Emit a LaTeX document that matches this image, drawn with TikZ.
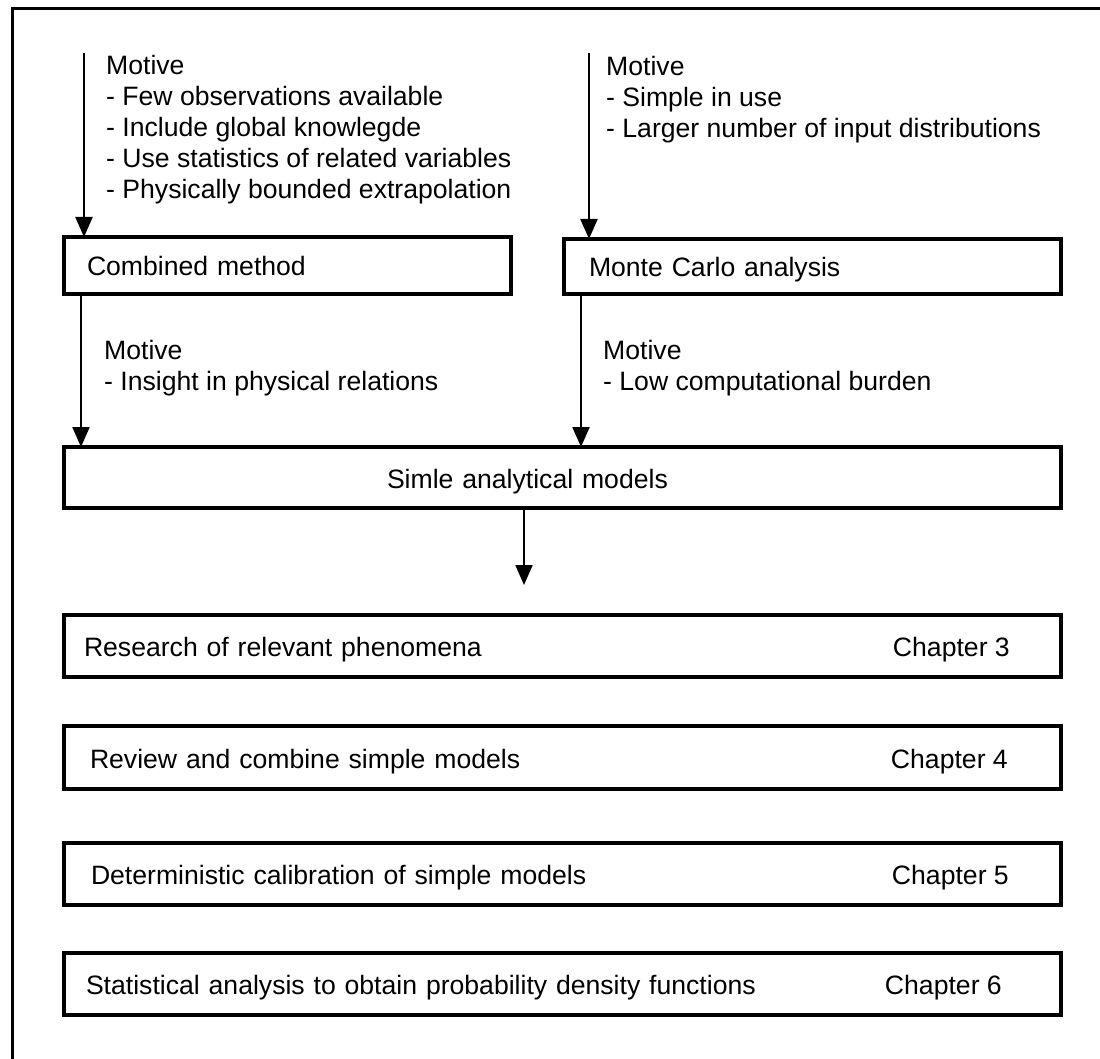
\documentclass[tikz,border=0pt]{standalone}
\usepackage{fontspec}
\setmainfont{Liberation Sans}
\usetikzlibrary{arrows.meta,calc}
\begin{document}
\begin{tikzpicture}[x=1pt,y=-1pt,
  every node/.style={font=\fontsize{26.6}{31}\selectfont},
  box/.style={draw, line width=3.2pt, rectangle, anchor=north west, align=left,
    inner ysep=0pt, outer sep=0pt, text height=21pt, text depth=0pt},
  note/.style={anchor=north west, align=left, inner sep=0pt},
  tag/.style={anchor=east, inner sep=0pt, text height=21pt, text depth=0pt},
  arr/.style={line width=2.2pt, -{Triangle[length=20pt,width=17pt]}},
  frame/.style={line width=3pt}]
\useasboundingbox (0,0) rectangle (1100,1059);
% open frame around the whole scheme
\draw[frame] (12,1080) -- (12,9) -- (1120,9);

% method boxes
\node[box, minimum width=447pt, minimum height=57pt, inner xsep=23pt, text width=401pt]
  (comb) at (64,237) {Combined method};
\node[box, minimum width=497pt, minimum height=55pt, inner xsep=25pt, text width=447pt]
  (mc) at (564,239) {Monte Carlo analysis};
\node[box, minimum width=997pt, minimum height=61pt, inner xsep=0pt, text width=997pt]
  (simle) at (64,447) {\hspace*{323pt}Simle analytical models};

% chapter boxes
\node[box, minimum width=997pt, minimum height=62pt, inner xsep=20pt, text width=957pt]
  (r3) at (64,615) {Research of relevant phenomena};
\node[box, minimum width=997pt, minimum height=63pt, inner xsep=26pt, text width=945pt]
  (r4) at (64,726) {Review and combine simple models};
\node[box, minimum width=997pt, minimum height=62pt, inner xsep=27pt, text width=943pt]
  (r5) at (64,843) {Deterministic calibration of simple models};
\node[box, minimum width=997pt, minimum height=62pt, inner xsep=22pt, text width=953pt]
  (r6) at (64,953) {Statistical analysis to obtain probability density functions};
\node[tag] (c3) at ([xshift=-51pt]r3.east) {Chapter 3};
\node[tag] (c4) at ([xshift=-53pt]r4.east) {Chapter 4};
\node[tag] (c5) at ([xshift=-52pt]r5.east) {Chapter 5};
\node[tag] (c6) at ([xshift=-59pt]r6.east) {Chapter 6};

% motives
\node[note] (n1) at (106,55.5) {Motive\\- Few observations available\\- Include global knowlegde\\- Use statistics of related variables\\- Physically bounded extrapolation};
\node[note] (n2) at (606,56.5) {Motive\\- Simple in use\\- Larger number of input distributions};
\node[note] (n3) at (104,340.5) {Motive\\- Insight in physical relations};
\node[note] (n4) at (603,340.5) {Motive\\- Low computational burden};

% connectors
\coordinate (s1) at (84,53);
\coordinate (s2) at (589,53);
\coordinate (down) at (524,585);
\draw[arr] (s1) -- (s1 |- comb.north);
\draw[arr] (s2) -- (s2 |- mc.north);
\draw[arr] ([xshift=17pt]comb.south west) -- ([xshift=17pt]comb.south west |- simle.north);
\draw[arr] ([xshift=17pt]mc.south west) -- ([xshift=17pt]mc.south west |- simle.north);
\draw[arr] (simle.south -| down) -- (down);
\end{tikzpicture}
\end{document}
